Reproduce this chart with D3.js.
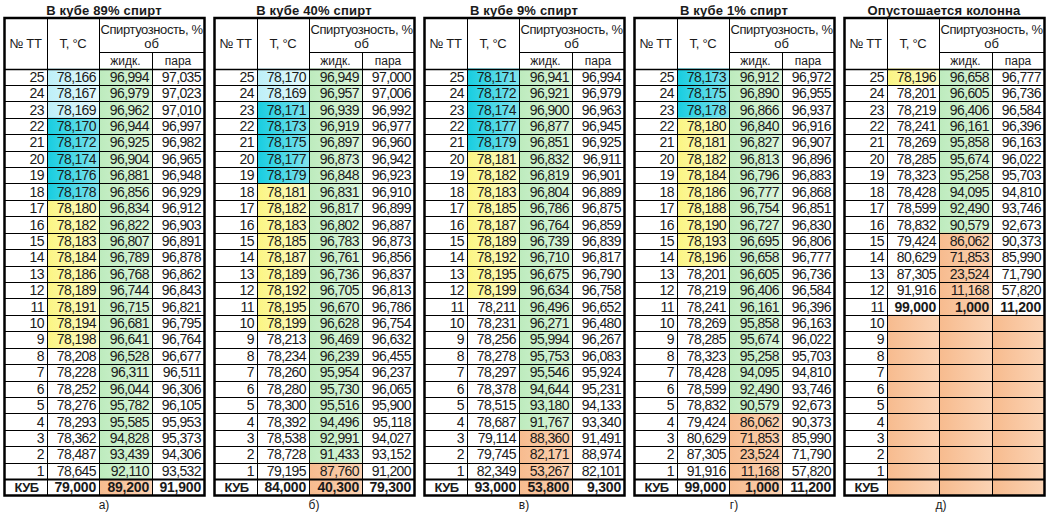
<!DOCTYPE html>
<html><head><meta charset="utf-8">
<script src="https://cdn.jsdelivr.net/npm/d3@7"></script>
<style>
body{margin:0;background:#fff;}
svg text{font-family:"Liberation Sans",Arial,sans-serif;fill:#1a1a1a;}
</style></head><body>
<svg id="c" width="1051" height="513"></svg>
<script>
// ---------- DATA ----------
const rowLabels = ["25","24","23","22","21","20","19","18","17","16","15","14","13","12","11","10","9","8","7","6","5","4","3","2","1","КУБ"];
const titles = ["В кубе 89%  спирт","В кубе 40%  спирт","В кубе 9%  спирт","В кубе 1%  спирт","Опустошается колонна"];
const captions = ["а)","б)","в)","г)","д)"];
const colHeaders = ["№ ТТ","Т, °С","жидк.","пара"];
const groupHeader = ["Спиртуозность, %","об"];

const temp1 = ["78,166","78,167","78,169","78,170","78,172","78,174","78,176","78,178","78,180","78,182","78,183","78,184","78,186","78,189","78,191","78,194","78,198","78,208","78,228","78,252","78,276","78,293","78,362","78,487","78,645","79,000"];
const liq1  = ["96,994","96,979","96,962","96,944","96,925","96,904","96,881","96,856","96,834","96,822","96,807","96,789","96,768","96,744","96,715","96,681","96,641","96,528","96,311","96,044","95,782","95,585","94,828","93,439","92,110","89,200"];
const vap1  = ["97,035","97,023","97,010","96,997","96,982","96,965","96,948","96,929","96,912","96,903","96,891","96,878","96,862","96,843","96,821","96,795","96,764","96,677","96,511","96,306","96,105","95,953","95,373","94,306","93,532","91,900"];

const temp2 = ["78,170","78,169","78,171","78,173","78,175","78,177","78,179","78,181","78,182","78,183","78,185","78,187","78,189","78,192","78,195","78,199","78,213","78,234","78,260","78,280","78,300","78,392","78,538","78,728","79,195","84,000"];
const liq2  = ["96,949","96,957","96,939","96,919","96,897","96,873","96,848","96,831","96,817","96,802","96,783","96,761","96,736","96,705","96,670","96,628","96,469","96,239","95,954","95,730","95,516","94,496","92,991","91,433","87,760","40,300"];
const vap2  = ["97,000","97,006","96,992","96,977","96,960","96,942","96,923","96,910","96,899","96,887","96,873","96,856","96,837","96,813","96,786","96,754","96,632","96,455","96,237","96,065","95,900","95,118","94,027","93,152","91,200","79,300"];

const temp3 = ["78,171","78,172","78,174","78,177","78,179","78,181","78,182","78,183","78,185","78,187","78,189","78,192","78,195","78,199","78,211","78,231","78,256","78,278","78,297","78,378","78,515","78,687","79,114","79,745","82,349","93,000"];
const liq3  = ["96,941","96,921","96,900","96,877","96,851","96,832","96,819","96,804","96,786","96,764","96,739","96,710","96,675","96,634","96,496","96,271","95,994","95,753","95,546","94,644","93,180","91,767","88,360","82,171","53,267","53,800"];
const vap3  = ["96,994","96,979","96,963","96,945","96,925","96,911","96,901","96,889","96,875","96,859","96,839","96,817","96,790","96,758","96,652","96,480","96,267","96,083","95,924","95,231","94,133","93,340","91,491","88,974","82,101","9,300"];

const temp4 = ["78,173","78,175","78,178","78,180","78,181","78,182","78,184","78,186","78,188","78,190","78,193","78,196","78,201","78,219","78,241","78,269","78,285","78,323","78,428","78,599","78,832","79,424","80,629","87,305","91,916","99,000"];
const liq4  = ["96,912","96,890","96,866","96,840","96,827","96,813","96,796","96,777","96,754","96,727","96,695","96,658","96,605","96,406","96,161","95,858","95,674","95,258","94,095","92,490","90,579","86,062","71,853","23,524","11,168","1,000"];
const vap4  = ["96,972","96,955","96,937","96,916","96,907","96,896","96,883","96,868","96,851","96,830","96,806","96,777","96,736","96,584","96,396","96,163","96,022","95,703","94,810","93,746","92,673","90,373","85,990","71,790","57,820","11,200"];

const temp5 = ["78,196","78,201","78,219","78,241","78,269","78,285","78,323","78,428","78,599","78,832","79,424","80,629","87,305","91,916","99,000","","","","","","","","","","",""];
const liq5  = ["96,658","96,605","96,406","96,161","95,858","95,674","95,258","94,095","92,490","90,579","86,062","71,853","23,524","11,168","1,000","","","","","","","","","","",""];
const vap5  = ["96,777","96,736","96,584","96,396","96,163","96,022","95,703","94,810","93,746","92,673","90,373","85,990","71,790","57,820","11,200","","","","","","","","","","",""];

// highlight category runs (top row downward): lc = light cyan, c = cyan, y = yellow, g = green, o = orange, w = none
const zonesT = [[["lc",3],["c",5],["y",9],["w",9]], [["lc",2],["c",5],["y",9],["w",10]], [["c",5],["y",9],["w",12]], [["c",3],["y",9],["w",14]], [["y",1],["w",14],["o",11]]];
const zonesL = [[["g",25],["o",1]], [["g",24],["o",2]], [["g",22],["o",4]], [["g",21],["o",5]], [["g",10],["o",16]]];
const zonesV = [[["w",26]], [["w",26]], [["w",26]], [["w",26]], [["w",15],["o",11]]];
const boldRow = ["КУБ","КУБ","КУБ","КУБ","11"];

// ---------- BUILD ----------
const tables = [
  [temp1,liq1,vap1],[temp2,liq2,vap2],[temp3,liq3,vap3],[temp4,liq4,vap4],[temp5,liq5,vap5]
];
const expand = z => z.flatMap(([k,n]) => Array(n).fill(k));

const svg = d3.select("#c");
const defs = svg.append("defs");
const palette = {
  lc:["#bdeff8","#e6fafd"],
  c:["#16cde0","#7fe3ee"],
  y:["#fbf582","#fdfbcc"],
  g:["#bdebbd","#dcf5dc"],
  o:["#f7bb8e","#fbd3b4"]
};
Object.entries(palette).forEach(([k,[a,b]])=>{
  const g = defs.append("linearGradient").attr("id","grad-"+k).attr("x1","0").attr("x2","1").attr("y1","0").attr("y2","0");
  g.append("stop").attr("offset","0").attr("stop-color",a);
  g.append("stop").attr("offset","1").attr("stop-color",b);
});

const colW = [43,52,53,52];
const colX = d3.scaleOrdinal().domain([0,1,2,3,4]).range(d3.cumsum([0,...colW]));
const tableX = d3.scaleLinear().domain([0,4]).range([4,844]);
const y = d3.scaleBand().domain(rowLabels).range([68.5,495.5]);
const tableW = d3.sum(colW);
const topY = 18, subY = 52, headBot = 68.5;
const px = v => Math.round(v)+0.5;

tables.forEach((cols, ti) => {
  const g = svg.append("g").attr("transform",`translate(${tableX(ti)},0)`);
  const fills = [expand(zonesT[ti]), expand(zonesL[ti]), expand(zonesV[ti])];

  fills.forEach((f, ci) => {
    g.selectAll(null).data(rowLabels.map((r,i)=>({r,k:f[i]})).filter(d=>d.k!=="w"))
      .join("rect")
      .attr("x", colX(ci+1)).attr("width", colW[ci+1])
      .attr("y", d=>y(d.r)).attr("height", y.bandwidth()+0.5)
      .attr("fill", d=>`url(#grad-${d.k})`);
  });

  svg.append("text").attr("x", tableX(ti)+tableW/2).attr("y", 15).attr("text-anchor","middle")
    .attr("font-weight","bold").attr("font-size","13px").attr("letter-spacing","0.2px").text(titles[ti]);
  svg.append("text").attr("x", tableX(ti)+tableW/2+(ti===4?-3:0)).attr("y", 509).attr("text-anchor","middle")
    .attr("font-size","12px").text(captions[ti]);

  const hs = "13px";
  g.append("text").attr("x", colX(0)+colW[0]/2).attr("y", 48).attr("text-anchor","middle").attr("font-size",hs).attr("letter-spacing","-0.3px").text(colHeaders[0]);
  g.append("text").attr("x", colX(1)+colW[1]/2).attr("y", 48).attr("text-anchor","middle").attr("font-size",hs).attr("letter-spacing","-0.3px").text(colHeaders[1]);
  g.append("text").attr("x", colX(2)+(colW[2]+colW[3])/2).attr("y", 34).attr("text-anchor","middle").attr("font-size",hs).attr("letter-spacing","-0.4px").text(groupHeader[0]);
  g.append("text").attr("x", colX(2)+(colW[2]+colW[3])/2).attr("y", 48).attr("text-anchor","middle").attr("font-size",hs).text(groupHeader[1]);
  g.append("text").attr("x", colX(2)+colW[2]/2).attr("y", 65).attr("text-anchor","middle").attr("font-size","12px").text(colHeaders[2]);
  g.append("text").attr("x", colX(3)+colW[3]/2).attr("y", 65).attr("text-anchor","middle").attr("font-size","12px").text(colHeaders[3]);

  g.selectAll(null).data(rowLabels).join("text")
    .attr("x", d => d==="КУБ" ? colW[0]/2+1 : colW[0]-3)
    .attr("y", d => y(d)+y.bandwidth()/2+5)
    .attr("text-anchor", d => d==="КУБ" ? "middle" : "end")
    .attr("font-size", d => d==="КУБ" ? "13px" : "14px")
    .attr("font-weight", d => d==="КУБ" ? "bold" : "normal")
    .attr("letter-spacing","-0.5px")
    .text(d=>d);

  cols.forEach((vals, ci) => {
    g.selectAll(null).data(rowLabels.map((r,i)=>({r,v:vals[i]}))).join("text")
      .attr("x", colX(ci+2)-3)
      .attr("y", d => y(d.r)+y.bandwidth()/2+5)
      .attr("text-anchor","end")
      .attr("font-size","14px")
      .attr("font-weight", d => d.r===boldRow[ti] ? "bold" : "normal")
      .attr("letter-spacing", d => d.r===boldRow[ti] ? "-0.2px" : "-0.6px")
      .text(d=>d.v);
  });

  const lines = g.append("g").attr("stroke","#000").attr("fill","none");
  rowLabels.slice(1).forEach(r => {
    const yy = px(y(r));
    lines.append("line").attr("x1",0).attr("x2",tableW).attr("y1",yy).attr("y2",yy)
      .attr("stroke-width", r==="КУБ" ? 2 : 1);
  });
  lines.append("line").attr("x1",0).attr("x2",tableW).attr("y1",px(headBot)).attr("y2",px(headBot)).attr("stroke-width",1.5);
  lines.append("line").attr("x1",colX(2)).attr("x2",tableW).attr("y1",px(subY)).attr("y2",px(subY)).attr("stroke-width",1);
  [1,2].forEach(c => lines.append("line").attr("x1",px(colX(c))).attr("x2",px(colX(c))).attr("y1",topY).attr("y2",y.range()[1]).attr("stroke-width",1));
  lines.append("line").attr("x1",px(colX(3))).attr("x2",px(colX(3))).attr("y1",subY).attr("y2",y.range()[1]).attr("stroke-width",1);
  lines.append("rect").attr("x",0.5).attr("y",topY).attr("width",tableW).attr("height",y.range()[1]-topY).attr("stroke-width",2.5);
});
</script>
</body></html>
